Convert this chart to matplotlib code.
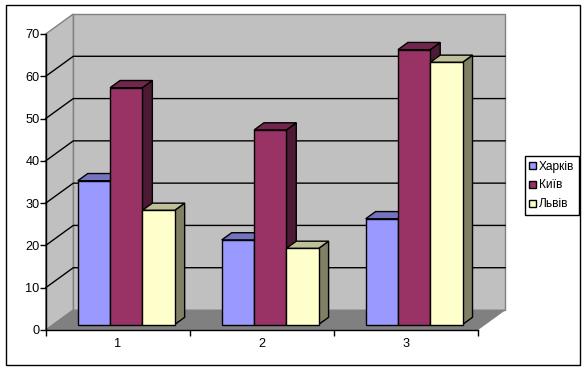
import numpy as np
import matplotlib
matplotlib.use("Agg")
import matplotlib.pyplot as plt
from matplotlib.patches import Patch, Rectangle

plt.rcParams["font.family"] = ["Liberation Sans", "DejaVu Sans"]

# data
categories = ["1", "2", "3"]
kharkiv = [34, 20, 25]
kyiv = [56, 46, 65]
lviv = [27, 18, 62]
series_names = ["Харків", "Київ", "Львів"]
y_ticks = [0, 10, 20, 30, 40, 50, 60, 70]

# colours: front, top, side
col_front = ["#9999FF", "#993366", "#FFFFCC"]
col_top = ["#7373BF", "#73264D", "#BFBF99"]
col_side = ["#4D4D80", "#4D1A33", "#808066"]

W, H = 586, 369
fig = plt.figure(figsize=(W / 100, H / 100), dpi=100, facecolor="white")

# outer frame
fig.add_artist(Rectangle((5.5 / W, 1 - 365 / H), 574.5 / W, 360.5 / H,
                         transform=fig.transFigure, fill=False,
                         edgecolor="black", linewidth=1.0))

# axes = front plane of the 3d box
ax = fig.add_axes([45.7 / W, 1 - 330 / H, 431.8 / W, 296 / H])
ax.set_xlim(0, 3)
ax.set_ylim(0, 70)
ax.patch.set_visible(False)

# depth of the box in data units
DX = 27.6 / (431.8 / 3)
DY = 20 / (296 / 70)


def pt(x, y, d):
    return x + d * DX, y + d * DY


def poly(points, color, edge="none", lw=0.0, z=1):
    xs, ys = zip(*points)
    ax.fill(xs, ys, facecolor=color, edgecolor=edge, linewidth=lw,
            zorder=z, clip_on=False)


# walls and floor
poly([pt(0, 0, 1), pt(3, 0, 1), pt(3, 70, 1), pt(0, 70, 1)], "#C0C0C0", "#808080", 1.0, 1)
poly([pt(0, 0, 0), pt(0, 0, 1), pt(0, 70, 1), pt(0, 70, 0)], "#C0C0C0", "#808080", 1.0, 1)
poly([pt(0, 0, 0), pt(3, 0, 0), pt(3, 0, 1), pt(0, 0, 1)], "#808080", "#808080", 0.5, 2)

# grid lines
for v in y_ticks[1:-1]:
    xs, ys = zip(pt(0, v, 0), pt(0, v, 1), pt(3, v, 1))
    ax.plot(xs, ys, color="black", linewidth=1.0, zorder=3, clip_on=False,
            solid_joinstyle="miter")

# bars, left to right so that later ones cover the earlier ones
bar_w = 32.3 / (431.8 / 3)
d0, d1 = 0.275, 0.635
all_series = [kharkiv, kyiv, lviv]
z = 4
for i in range(len(categories)):
    for j, values in enumerate(all_series):
        v = values[i]
        x0 = i + 0.507 + (j - 1.5) * bar_w
        x1 = x0 + bar_w
        poly([pt(x1, 0, d0), pt(x1, 0, d1), pt(x1, v, d1), pt(x1, v, d0)],
             col_side[j], "black", 1.0, z)
        poly([pt(x0, v, d0), pt(x1, v, d0), pt(x1, v, d1), pt(x0, v, d1)],
             col_top[j], "black", 1.0, z)
        poly([pt(x0, 0, d0), pt(x1, 0, d0), pt(x1, v, d0), pt(x0, v, d0)],
             col_front[j], "black", 1.0, z)
        z += 1

# axes
for name in ["top", "right"]:
    ax.spines[name].set_visible(False)
for name in ["left", "bottom"]:
    ax.spines[name].set_linewidth(1.0)
    ax.spines[name].set_zorder(30)

ax.set_yticks(y_ticks)
ax.set_xticks(np.arange(len(categories) + 1))
ax.set_xticklabels([])
ax.set_xticks(np.arange(len(categories)) + 0.5, minor=True)
ax.set_xticklabels(categories, minor=True)
ax.tick_params(axis="x", which="major", length=4, width=1.0)
ax.tick_params(axis="x", which="minor", length=0, pad=6, labelsize=9.2)
ax.tick_params(axis="y", length=4, width=1.0, pad=0.5, labelsize=9.2)

# legend
handles = [Patch(facecolor=c, edgecolor="black", linewidth=1.0) for c in col_front]
leg = fig.legend(handles, series_names, loc="upper left",
                 bbox_to_anchor=(524.5 / W, 1 - 156 / H),
                 fontsize=8.6, frameon=True, fancybox=False, framealpha=1,
                 edgecolor="black", borderpad=0.38, handlelength=0.55,
                 handleheight=0.55, handletextpad=0.3, labelspacing=0.58,
                 borderaxespad=0)
leg.get_frame().set_linewidth(1.0)

fig.savefig("out.png", dpi=100)
